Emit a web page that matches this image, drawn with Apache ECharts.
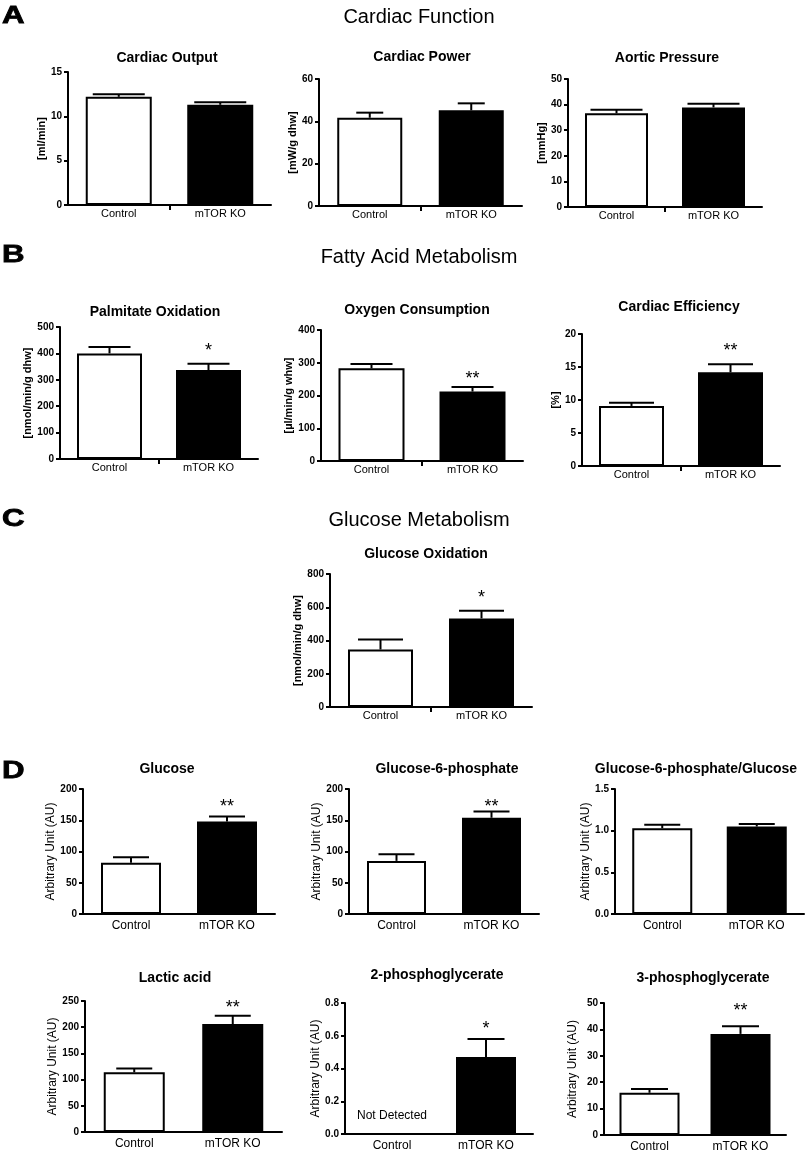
<!DOCTYPE html>
<html>
<head>
<meta charset="utf-8">
<script src="https://cdn.jsdelivr.net/npm/echarts@6/dist/echarts.min.js"></script>
<style>
html,body{margin:0;padding:0;background:#fff;}
#chart{width:812px;height:1156px;}
</style>
</head>
<body>
<div id="chart"></div>
<script>
// ---------------- DATA ----------------
const categories = ['Control', 'mTOR KO'];
const sectionTitles = ['Cardiac Function', 'Fatty Acid Metabolism', 'Glucose Metabolism'];
const panelLetters = ['A', 'B', 'C', 'D'];
const panelTitles = ['Cardiac Output', 'Cardiac Power', 'Aortic Pressure',
  'Palmitate Oxidation', 'Oxygen Consumption', 'Cardiac Efficiency',
  'Glucose Oxidation',
  'Glucose', 'Glucose-6-phosphate', 'Glucose-6-phosphate/Glucose',
  'Lactic acid', '2-phosphoglycerate', '3-phosphoglycerate'];
const yNames = ['[ml/min]', '[mW/g dhw]', '[mmHg]',
  '[nmol/min/g dhw]', '[µl/min/g whw]', '[%]',
  '[nmol/min/g dhw]',
  'Arbitrary Unit (AU)', 'Arbitrary Unit (AU)', 'Arbitrary Unit (AU)',
  'Arbitrary Unit (AU)', 'Arbitrary Unit (AU)', 'Arbitrary Unit (AU)'];
const yMax = [15, 60, 50, 500, 400, 20, 800, 200, 200, 1.5, 250, 0.8, 50];
const yInterval = [5, 20, 10, 100, 100, 5, 200, 50, 50, 0.5, 50, 0.2, 10];
const yDecimals = [0, 0, 0, 0, 0, 0, 0, 0, 0, 1, 0, 1, 0];
const controlMean = [12.2, 41.7, 36.6, 400, 283, 9.1, 346, 82, 85, 1.03, 114, null, 16.0];
const controlErrTop = [12.5, 44.1, 38.0, 424, 296, 9.6, 406, 91, 95.5, 1.07, 121, null, 17.4];
const koMean = [11.3, 45.2, 38.9, 337, 212, 14.2, 533, 148, 154, 1.05, 206, 0.47, 38.3];
const koErrTop = [11.6, 48.5, 40.3, 361, 226, 15.4, 579, 156, 164, 1.08, 222, 0.58, 41.2];
const sigLabel = ['', '', '', '*', '**', '**', '*', '**', '**', '', '**', '*', '**'];
const sigAt = [null, null, null, 432, 269, 18.3, 691, 181, 181, null, 248, 0.678, 49.2];
const notDetectedText = 'Not Detected';
const notDetectedAt = [11, 0, 0.11]; // [panel, category index, value]

// ---------------- LAYOUT (px) ----------------
// [left, top, width, height, barWidth, capWidth, nameGap, big]
const layout = [
  [68, 72, 203, 133, 66, 52, 18, 0],
  [319, 79, 203, 127, 65, 27, 15, 0],
  [568, 79, 194, 128, 63, 52, 16, 0],
  [60, 327, 198, 132, 65, 42, 20, 0],
  [321, 330, 202, 131, 66, 42, 25, 0],
  [582, 334, 198, 132, 65, 45, 20, 0],
  [330, 574, 202, 133, 65, 45, 20, 0],
  [83, 789, 192, 125, 60, 36, 21, 1],
  [349, 789, 190, 125, 59, 36, 22, 1],
  [615, 789, 189, 125, 60, 36, 23, 1],
  [85, 1001, 197, 131, 61, 36, 23, 1],
  [345, 1003, 188, 131, 60, 37, 22, 1],
  [604, 1003, 182, 132, 60, 37, 25, 1]
];
const titlePos = [[167, 58], [422, 57], [667, 58], [155, 312], [417, 310], [679, 307], [426, 554],
  [167, 769], [447, 769], [696, 769], [175, 978], [437, 975], [703, 978]];
const sectionPos = [[419, 17], [419, 257], [419, 520]];
const letterPos = [[2, 16], [2, 255], [2, 519], [2, 771]];

const FONT = '"Liberation Sans", Arial, Helvetica, sans-serif';

const grids = [], xAxes = [], yAxes = [], series = [], graphics = [];

layout.forEach((L, i) => {
  const [left, top, width, height, barW, capW, nameGap, big] = L;
  grids.push({ left, top, width, height, outerBoundsMode: 'none', containLabel: false });
  xAxes.push({
    type: 'category', gridIndex: i, data: categories,
    axisLine: { show: true, lineStyle: { color: '#000', width: 2 } },
    axisTick: { show: false },
    axisLabel: { color: '#000', fontFamily: FONT, fontSize: big ? 12 : 11, margin: big ? 6 : 3, interval: 0 },
    splitLine: { show: false }
  });
  yAxes.push({
    type: 'value', gridIndex: i, min: 0, max: yMax[i], interval: yInterval[i],
    name: yNames[i], nameLocation: 'middle', nameRotate: 90, nameGap: nameGap,
    nameTextStyle: { color: '#000', fontFamily: FONT, fontSize: big ? 12 : 11, fontWeight: big ? 'normal' : 'bold' },
    axisLine: { show: true, onZero: false, lineStyle: { color: '#000', width: 2 } },
    axisTick: { show: true, length: 4, lineStyle: { color: '#000', width: 2 } },
    axisLabel: { color: '#000', fontFamily: FONT, fontSize: 10, fontWeight: 'bold', margin: 6,
      formatter: v => v.toFixed(yDecimals[i]) },
    splitLine: { show: false }
  });
  const c = controlMean[i], k = koMean[i];
  series.push({
    type: 'bar', xAxisIndex: i, yAxisIndex: i, barWidth: barW, silent: true, animation: false,
    data: [
      c == null ? '-' : { value: c, itemStyle: { color: '#fff', borderColor: '#000', borderWidth: 2 } },
      { value: k, itemStyle: { color: '#000', borderColor: '#000', borderWidth: 2 } }
    ],
    z: 2
  });
  const errData = [];
  if (c != null) errData.push([0, c, controlErrTop[i]]);
  errData.push([1, k, koErrTop[i]]);
  series.push({
    type: 'custom', xAxisIndex: i, yAxisIndex: i, silent: true, animation: false, z: 3,
    data: errData,
    renderItem: (params, api) => {
      const x = api.value(0), m = api.value(1), e = api.value(2);
      const p0 = api.coord([x, m]), p1 = api.coord([x, e]);
      const h = capW / 2;
      const children = [
        { type: 'line', shape: { x1: p0[0], y1: p0[1], x2: p1[0], y2: p1[1] }, style: { stroke: '#000', lineWidth: 2 } },
        { type: 'line', shape: { x1: p1[0] - h, y1: p1[1], x2: p1[0] + h, y2: p1[1] }, style: { stroke: '#000', lineWidth: 2 } }
      ];
      // middle category-boundary tick on the x axis (panels A-C)
      if (!big && x === 1) {
        const a = api.coord([0, 0]), b = api.coord([1, 0]);
        const mx = Math.round((a[0] + b[0]) / 2);
        children.push({ type: 'line', shape: { x1: mx, y1: a[1], x2: mx, y2: a[1] + 5 }, style: { stroke: '#000', lineWidth: 2 } });
      }
      return { type: 'group', children };
    }
  });
  if (sigLabel[i]) {
    series.push({
      type: 'custom', xAxisIndex: i, yAxisIndex: i, silent: true, animation: false, z: 4,
      data: [[1, sigAt[i]]],
      renderItem: (params, api) => {
        const p = api.coord([api.value(0), api.value(1)]);
        return { type: 'text', x: p[0], y: p[1] + 6,
          style: { text: sigLabel[i], fill: '#000', font: '18px ' + FONT, align: 'center', verticalAlign: 'middle',
            textAlign: 'center', textVerticalAlign: 'middle' } };
      }
    });
  }
  if (notDetectedAt[0] === i) {
    series.push({
      type: 'custom', xAxisIndex: i, yAxisIndex: i, silent: true, animation: false, z: 4,
      data: [[notDetectedAt[1], notDetectedAt[2]]],
      renderItem: (params, api) => {
        const p = api.coord([api.value(0), api.value(1)]);
        return { type: 'text', x: p[0], y: p[1],
          style: { text: notDetectedText, fill: '#000', font: '12px ' + FONT, align: 'center', verticalAlign: 'middle',
            textAlign: 'center', textVerticalAlign: 'middle' } };
      }
    });
  }
  graphics.push({ type: 'text', x: titlePos[i][0], y: titlePos[i][1],
    style: { text: panelTitles[i], fill: '#000', font: 'bold 14px ' + FONT, align: 'center', verticalAlign: 'middle',
      textAlign: 'center', textVerticalAlign: 'middle' } });
});

sectionTitles.forEach((t, i) => {
  graphics.push({ type: 'text', x: sectionPos[i][0], y: sectionPos[i][1],
    style: { text: t, fill: '#000', font: '20px ' + FONT, align: 'center', verticalAlign: 'middle',
      textAlign: 'center', textVerticalAlign: 'middle' } });
});
panelLetters.forEach((t, i) => {
  graphics.push({ type: 'text', x: letterPos[i][0], y: letterPos[i][1], scaleX: 1.3, originX: 0,
    style: { text: t, fill: '#000', font: 'bold 24px ' + FONT, align: 'left', verticalAlign: 'middle',
      textAlign: 'left', textVerticalAlign: 'middle', stroke: '#000', lineWidth: 0.8 } });
});

const chart = echarts.init(document.getElementById('chart'), null, { renderer: 'canvas' });
chart.setOption({
  backgroundColor: '#fff',
  animation: false,
  grid: grids,
  xAxis: xAxes,
  yAxis: yAxes,
  series: series,
  graphic: { elements: graphics }
});
</script>
</body>
</html>
